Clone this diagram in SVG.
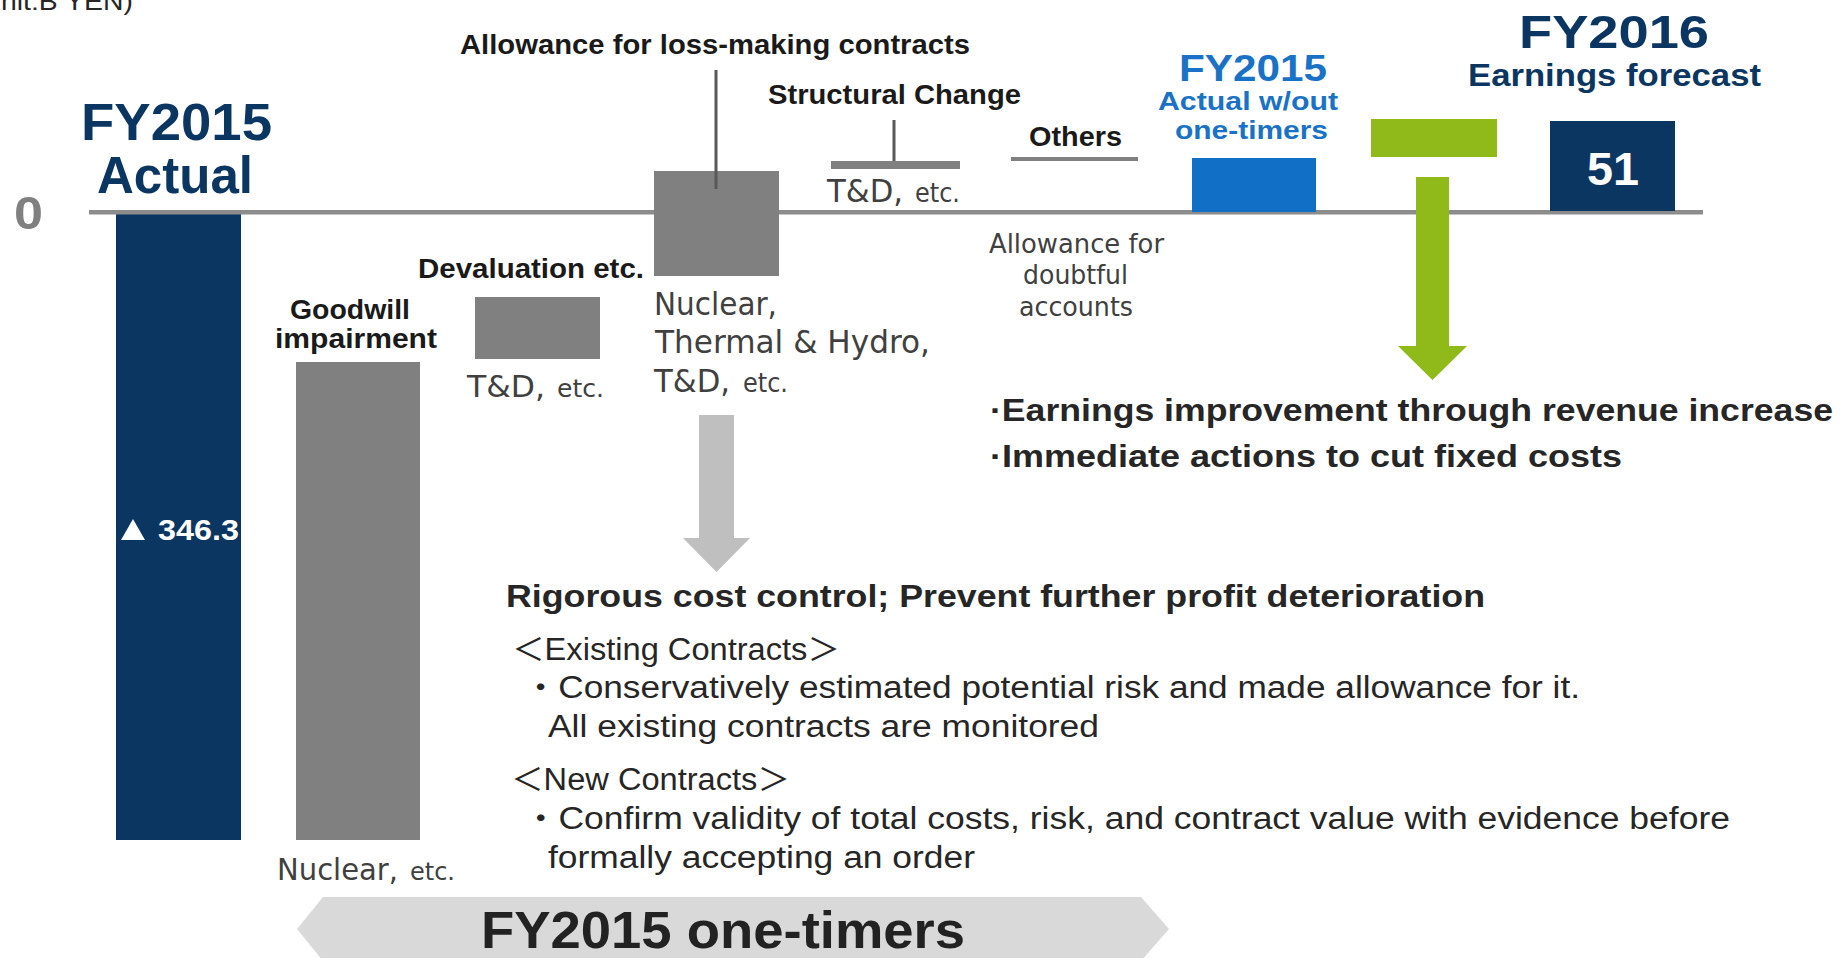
<svg xmlns="http://www.w3.org/2000/svg" width="1841" height="958" viewBox="0 0 1841 958">
<style>
text{font-family:"Liberation Sans","Noto Sans CJK JP",sans-serif;}
.b{font-weight:bold;}
.lbl{font-size:27px;font-weight:bold;fill:#1a1a1a;}
.navy{fill:#0b3661;}
.gbar{fill:#808080;}
.sub{font-family:"DejaVu Sans","Noto Sans CJK JP",sans-serif;fill:#404040;}
.body{font-size:31px;fill:#262626;}
.lead{stroke:#595959;stroke-width:3;fill:none;}
</style>
<rect width="1841" height="958" fill="#ffffff"/>
<text x="1" y="10" font-size="25" fill="#262626" textLength="132" lengthAdjust="spacingAndGlyphs">nit:B YEN)</text>

<g id="fy2015-actual">
<text class="b" x="81" y="140" font-size="52" fill="#0b3661" textLength="191" lengthAdjust="spacingAndGlyphs">FY2015</text>
<text class="b" x="97" y="193" font-size="52" fill="#0b3661" textLength="156" lengthAdjust="spacingAndGlyphs">Actual</text>
<rect class="navy" x="116" y="213" width="125" height="627"/>
<polygon points="121,540 145,540 133,519" fill="#ffffff"/>
<text class="b" x="158" y="540" font-size="30" fill="#ffffff" textLength="81" lengthAdjust="spacingAndGlyphs">346.3</text>
</g>

<g id="axis">
<text class="b" x="14" y="229" font-size="47" fill="#808080" textLength="29" lengthAdjust="spacingAndGlyphs">0</text>
<rect x="89" y="210" width="1614" height="4.5" fill="#8c8c8c"/>
</g>

<g id="goodwill">
<text class="lbl" x="290" y="319" textLength="120" lengthAdjust="spacingAndGlyphs">Goodwill</text>
<text class="lbl" x="275" y="348" textLength="162" lengthAdjust="spacingAndGlyphs">impairment</text>
<rect class="gbar" x="296" y="362" width="124" height="478"/>
<text class="sub" x="277" y="880" font-size="31" textLength="121" lengthAdjust="spacingAndGlyphs">Nuclear,</text>
<text class="sub" x="410" y="880" font-size="25" textLength="45" lengthAdjust="spacingAndGlyphs">etc.</text>
</g>

<g id="devaluation">
<text class="lbl" x="418" y="278" textLength="226" lengthAdjust="spacingAndGlyphs">Devaluation etc.</text>
<rect class="gbar" x="475" y="297" width="125" height="62"/>
<text class="sub" x="467" y="397" font-size="31" textLength="78" lengthAdjust="spacingAndGlyphs">T&amp;D,</text>
<text class="sub" x="557" y="397" font-size="25" textLength="47" lengthAdjust="spacingAndGlyphs">etc.</text>
</g>

<g id="loss-making">
<text class="lbl" x="460" y="54" font-size="26" textLength="510" lengthAdjust="spacingAndGlyphs">Allowance for loss-making contracts</text>
<rect class="gbar" x="654" y="171" width="125" height="105"/>
<text class="sub" x="654" y="315" font-size="32" textLength="123" lengthAdjust="spacingAndGlyphs">Nuclear,</text>
<text class="sub" x="655" y="353" font-size="32" textLength="275" lengthAdjust="spacingAndGlyphs">Thermal &amp; Hydro,</text>
<text class="sub" x="654" y="392" font-size="32" textLength="76" lengthAdjust="spacingAndGlyphs">T&amp;D,</text>
<text class="sub" x="743" y="392" font-size="26" textLength="45" lengthAdjust="spacingAndGlyphs">etc.</text>
</g>

<g id="structural-change">
<text class="lbl" x="768" y="104" font-size="26" textLength="253" lengthAdjust="spacingAndGlyphs">Structural Change</text>
<rect class="gbar" x="831" y="161" width="129" height="8"/>
<text class="sub" x="827" y="202" font-size="32" textLength="76" lengthAdjust="spacingAndGlyphs">T&amp;D,</text>
<text class="sub" x="915" y="202" font-size="26" textLength="45" lengthAdjust="spacingAndGlyphs">etc.</text>
</g>

<g id="others">
<text class="lbl" x="1029" y="146" font-size="26" textLength="93" lengthAdjust="spacingAndGlyphs">Others</text>
<rect class="gbar" x="1011" y="157" width="127" height="4"/>
<text class="sub" x="989" y="253" font-size="26" textLength="175" lengthAdjust="spacingAndGlyphs">Allowance for</text>
<text class="sub" x="1023" y="284" font-size="26" textLength="105" lengthAdjust="spacingAndGlyphs">doubtful</text>
<text class="sub" x="1019" y="316" font-size="26" textLength="114" lengthAdjust="spacingAndGlyphs">accounts</text>
</g>

<g id="fy2015-without">
<text class="b" x="1179" y="81" font-size="37" fill="#1a72c6" textLength="148" lengthAdjust="spacingAndGlyphs">FY2015</text>
<text class="b" x="1158" y="110" font-size="25" fill="#1a72c6" textLength="180" lengthAdjust="spacingAndGlyphs">Actual w/out</text>
<text class="b" x="1175" y="139" font-size="25" fill="#1a72c6" textLength="153" lengthAdjust="spacingAndGlyphs">one-timers</text>
<rect x="1192" y="158" width="124" height="54" fill="#1170c5"/>
</g>

<g id="improvement">
<rect x="1371" y="119" width="126" height="38" fill="#8fba1a"/>
</g>

<g id="fy2016-forecast">
<text class="b" x="1519" y="48" font-size="47" fill="#0b3661" textLength="190" lengthAdjust="spacingAndGlyphs">FY2016</text>
<text class="b" x="1468" y="86" font-size="32" fill="#0b3661" textLength="293" lengthAdjust="spacingAndGlyphs">Earnings forecast</text>
<rect class="navy" x="1550" y="121" width="125" height="90"/>
<text class="b" x="1587" y="185" font-size="46" fill="#ffffff" textLength="52" lengthAdjust="spacingAndGlyphs">51</text>
</g>

<g id="connectors">
<line class="lead" x1="716" y1="70" x2="716" y2="189"/>
<line class="lead" x1="894" y1="120" x2="894" y2="161"/>
<polygon points="699,415 734,415 734,538 750,538 716.5,572 683,538 699,538" fill="#bfbfbf"/>
<polygon points="1416,177 1449,177 1449,346 1467,346 1432.5,380 1398,346 1416,346" fill="#8fba1a"/>
</g>

<g id="actions">
<text class="b" x="990" y="421" font-size="31" fill="#262626" textLength="843" lengthAdjust="spacingAndGlyphs">·Earnings improvement through revenue increase</text>
<text class="b" x="990" y="467" font-size="31" fill="#262626" textLength="632" lengthAdjust="spacingAndGlyphs">·Immediate actions to cut fixed costs</text>
</g>

<g id="cost-control">
<text class="b" x="506" y="607" font-size="32" fill="#262626" textLength="979" lengthAdjust="spacingAndGlyphs">Rigorous cost control; Prevent further profit deterioration</text>
<text class="body" x="512" y="660" textLength="328" lengthAdjust="spacingAndGlyphs">＜Existing Contracts＞</text>
<text class="body" x="523" y="698" textLength="1057" lengthAdjust="spacingAndGlyphs">・Conservatively estimated potential risk and made allowance for it.</text>
<text class="body" x="548" y="737" textLength="551" lengthAdjust="spacingAndGlyphs">All existing contracts are monitored</text>
<text class="body" x="511" y="790" textLength="279" lengthAdjust="spacingAndGlyphs">＜New Contracts＞</text>
<text class="body" x="523" y="829" textLength="1207" lengthAdjust="spacingAndGlyphs">・Confirm validity of total costs, risk, and contract value with evidence before</text>
<text class="body" x="548" y="868" textLength="427" lengthAdjust="spacingAndGlyphs">formally accepting an order</text>
</g>

<g id="one-timers-banner">
<polygon points="323,897 1141,897 1169,929 1141,961 323,961 297,929" fill="#d9d9d9"/>
<text class="b" x="481" y="948" font-size="52" fill="#222222" textLength="484" lengthAdjust="spacingAndGlyphs">FY2015 one-timers</text>
</g>
</svg>
